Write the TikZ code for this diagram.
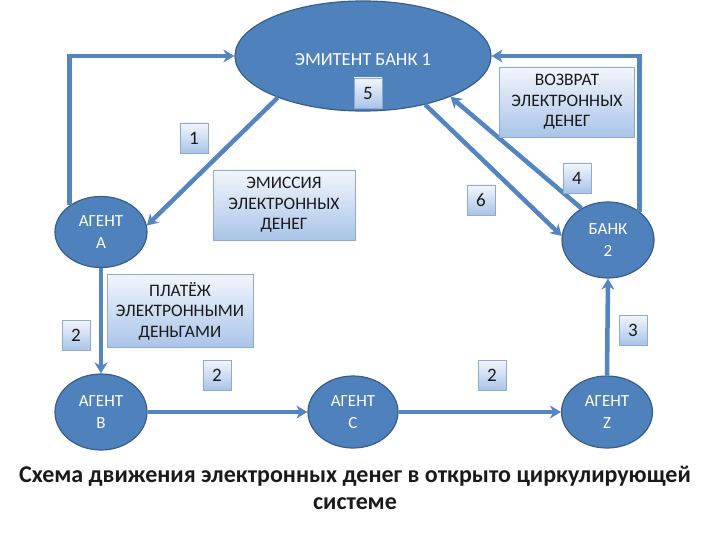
\documentclass[tikz,border=0pt]{standalone}
\usepackage{fontspec}
\setmainfont{Carlito}
\usetikzlibrary{arrows.meta,shapes.geometric}
\definecolor{fillblue}{HTML}{4F81BD}
\definecolor{edgeblue}{HTML}{385D8A}
\definecolor{flowblue}{HTML}{5585C0}
\definecolor{boxtop}{HTML}{F2F6FC}
\definecolor{boxbot}{HTML}{A9C4E8}
\definecolor{boxedge}{HTML}{8FAAD0}
\definecolor{ink}{HTML}{1A1A1A}

\begin{document}
\begin{tikzpicture}[
  x=1pt,y=-1pt,
  party/.style={ellipse,draw=edgeblue,line width=1.2pt,fill=fillblue,text=white,
    inner sep=0pt,align=center,font=\fontsize{17}{22}\selectfont},
  caption/.style={rectangle,draw=boxedge,line width=0.6pt,top color=boxtop,bottom color=boxbot,
    align=center,text=ink,inner sep=0pt,font=\fontsize{17.5}{20.5}\selectfont},
  stepno/.style={caption,minimum width=28pt,minimum height=30pt,font=\fontsize{19}{19}\selectfont},
  flow/.style={line width=4.5pt,color=flowblue,-{Stealth[length=11pt,width=13pt]}}
]
\useasboundingbox (0,0) rectangle (720,540);

% участники
\node[party,minimum width=256pt,minimum height=110pt] (E) at (363,56) {};
\node[font=\fontsize{18.5}{21}\selectfont,text=white] (Etxt) at (363,60) {ЭМИТЕНТ БАНК 1};
\node[party,minimum width=92pt,minimum height=71pt] (A) at (101,232) {АГЕНТ\\А};
\node[party,minimum width=92pt,minimum height=76pt] (K) at (608,240) {БАНК\\2};
\node[party,minimum width=92pt,minimum height=76pt] (B) at (101,412) {АГЕНТ\\В};
\node[party,minimum width=90pt,minimum height=72pt] (C) at (353,412) {АГЕНТ\\С};
\node[party,minimum width=91pt,minimum height=72pt] (Z) at (607,412) {АГЕНТ\\Z};

% потоки
\draw[flow] (A.140) |- (E.west);
\draw[flow] (E.206) -- (A.8);
\draw[flow] (A.south) -- (B.north);
\draw[flow] (B.east) -- (C.west);
\draw[flow] (C.east) -- (Z.west);
\draw[flow] (Z.north) -- (K.south);
\draw[flow] (K.42) |- (E.east);
\draw[flow] (K.130) -- (E.335);
\draw[flow] (E.322) -- (K.175);

% подписи
\node[caption,minimum width=142pt,minimum height=70pt] (emis) at (284,205) {ЭМИССИЯ\\ЭЛЕКТРОННЫХ\\ДЕНЕГ};
\node[caption,minimum width=135pt,minimum height=70pt] (ret) at (567,102) {ВОЗВРАТ\\ЭЛЕКТРОННЫХ\\ДЕНЕГ};
\node[caption,minimum width=146pt,minimum height=73pt] (pay) at (180,311) {ПЛАТЁЖ\\ЭЛЕКТРОННЫМИ\\ДЕНЬГАМИ};

% номера шагов
\node[stepno] (n5) at (368,93) {5};
\node[stepno] (n1) at (194,138) {1};
\node[stepno] (n4) at (577,178) {4};
\node[stepno] (n6) at (481,200) {6};
\node[stepno] (n2a) at (76,335) {2};
\node[stepno] (n2b) at (217,375) {2};
\node[stepno] (n2c) at (492,375) {2};
\node[stepno] (n3) at (633,330) {3};

\node[font=\fontsize{24}{27.5}\selectfont\bfseries,text=ink,align=center] (title) at (355,488)
  {Схема движения электронных денег в открыто циркулирующей\\системе};
\end{tikzpicture}
\end{document}
